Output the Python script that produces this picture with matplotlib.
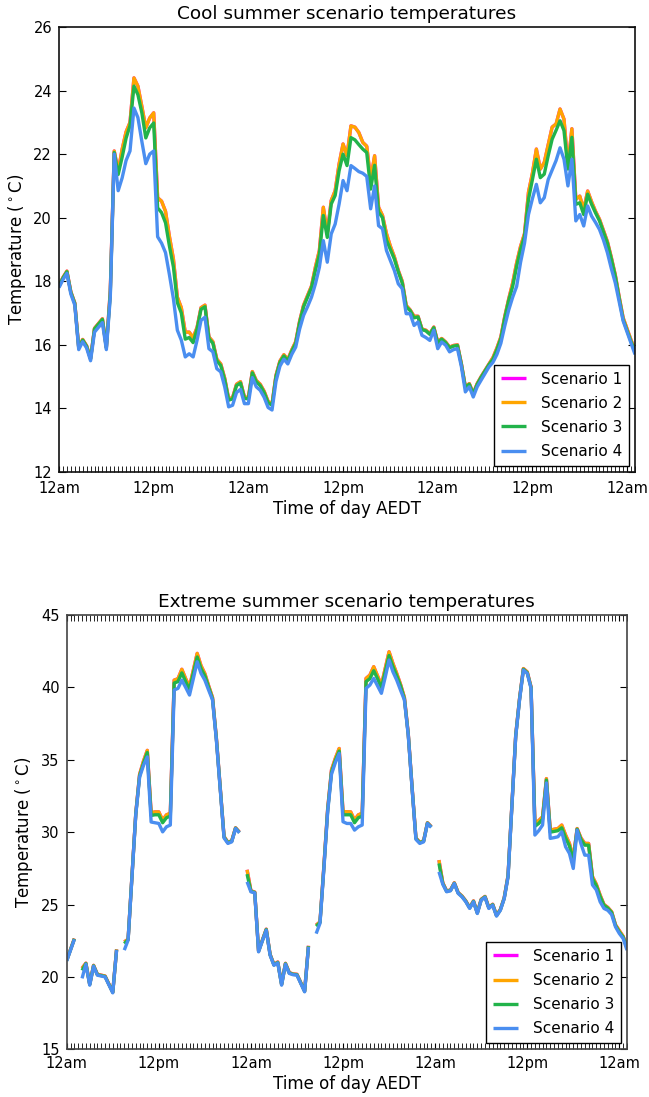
import numpy as np
import matplotlib
matplotlib.use("Agg")
import matplotlib.pyplot as plt
from matplotlib.ticker import MultipleLocator, FixedLocator, FixedFormatter

nan = np.nan

# ---------------- shared axis data ----------------
step_hours = 0.5                      # half-hourly observations
tick_hours = [0, 12, 24, 36, 48, 60, 72]
tick_labels = ["12am", "12pm", "12am", "12pm", "12am", "12pm", "12am"]
scenario_names = ["Scenario 1", "Scenario 2", "Scenario 3", "Scenario 4"]
scenario_colors = ["#ff00ff", "#ffa500", "#22b34a", "#4a8ef0"]

# ---------------- cool summer scenario ----------------
cool_s4 = [
    17.8, 18.05, 18.25, 17.6, 17.25, 15.85, 16.1, 15.9, 15.5, 16.4,
    16.55, 16.7, 15.85, 17.5, 22.0, 20.85, 21.25, 21.8, 22.1, 23.45,
    23.15, 22.4, 21.7, 22.0, 22.1, 19.4, 19.2, 18.9, 18.2, 17.45,
    16.46, 16.15, 15.62, 15.72, 15.62, 16.15, 16.77, 16.87, 15.88, 15.78,
    15.25, 15.15, 14.68, 14.05, 14.1, 14.5, 14.6, 14.15, 14.15, 14.97,
    14.68, 14.57, 14.35, 14.03, 13.95, 14.85, 15.33, 15.55, 15.4, 15.7,
    15.93, 16.5, 16.93, 17.2, 17.5, 17.92, 18.44, 19.28, 18.6, 19.49,
    19.8, 20.43, 21.17, 20.85, 21.64, 21.55, 21.45, 21.4, 21.3, 20.28,
    21.0, 19.75, 19.65, 18.97, 18.65, 18.34, 17.92, 17.77, 16.98, 16.98,
    16.61, 16.72, 16.3, 16.23, 16.14, 16.46, 15.88, 16.09, 15.99, 15.78,
    15.85, 15.88, 15.31, 14.52, 14.68, 14.36, 14.68, 14.89, 15.1, 15.31,
    15.45, 15.7, 16.05, 16.6, 17.1, 17.5, 17.84, 18.6, 19.2, 20.1,
    20.6, 21.05, 20.47, 20.63, 21.2, 21.5, 21.8, 22.2, 21.84, 21.0,
    21.84, 19.9, 20.1, 19.74, 20.37, 20.05, 19.85, 19.63, 19.3, 18.9,
    18.4, 17.95, 17.35, 16.75, 16.4, 16.05, 15.7,
]
cool_s3 = [
    17.85, 18.1, 18.3, 17.65, 17.3, 15.9, 16.15, 15.95, 15.55, 16.5,
    16.65, 16.8, 15.9, 17.6, 22.05, 21.36, 21.9, 22.5, 22.9, 24.14,
    23.87, 23.3, 22.51, 22.83, 22.98, 20.31, 20.16, 19.84, 19.1, 18.45,
    17.33, 17.0, 16.18, 16.23, 16.07, 16.5, 17.12, 17.2, 16.2, 16.05,
    15.5, 15.35, 14.9, 14.26, 14.3, 14.72, 14.8, 14.32, 14.3, 15.12,
    14.84, 14.72, 14.5, 14.18, 14.1, 15.0, 15.45, 15.65, 15.5, 15.8,
    16.05, 16.7, 17.2, 17.5, 17.8, 18.35, 18.85, 20.07, 19.38, 20.43,
    20.7, 21.48, 22.0, 21.64, 22.52, 22.45, 22.3, 22.16, 22.05, 20.9,
    21.65, 20.18, 20.0, 19.3, 19.0, 18.7, 18.3, 17.95, 17.2, 17.08,
    16.85, 16.88, 16.48, 16.44, 16.33, 16.54, 16.06, 16.18, 16.07, 15.91,
    15.96, 15.98, 15.38, 14.66, 14.76, 14.45, 14.76, 14.98, 15.18, 15.38,
    15.55, 15.85, 16.2, 16.85, 17.4, 17.84, 18.47, 19.0, 19.42, 20.58,
    21.2, 21.84, 21.26, 21.37, 21.95, 22.47, 22.75, 23.05, 22.74, 21.53,
    22.53, 20.42, 20.47, 20.1, 20.74, 20.42, 20.15, 19.9, 19.55, 19.2,
    18.7, 18.16, 17.45, 16.79, 16.45, 16.1, 15.8,
]
cool_s2 = [
    17.87, 18.12, 18.32, 17.67, 17.32, 15.92, 16.17, 15.97, 15.57, 16.52,
    16.67, 16.82, 15.92, 17.7, 22.1, 21.46, 22.15, 22.7, 23.0, 24.4,
    24.14, 23.5, 22.83, 23.14, 23.3, 20.63, 20.52, 20.2, 19.4, 18.7,
    17.5, 17.17, 16.4, 16.4, 16.23, 16.55, 17.17, 17.25, 16.25, 16.1,
    15.55, 15.4, 14.95, 14.3, 14.34, 14.76, 14.84, 14.36, 14.34, 15.16,
    14.88, 14.76, 14.54, 14.22, 14.14, 15.04, 15.49, 15.69, 15.54, 15.84,
    16.1, 16.75, 17.25, 17.55, 17.85, 18.45, 18.97, 20.33, 19.49, 20.54,
    20.85, 21.69, 22.32, 21.95, 22.89, 22.85, 22.68, 22.37, 22.25, 21.2,
    21.95, 20.33, 20.07, 19.5, 19.1, 18.77, 18.34, 18.0, 17.24, 17.1,
    16.9, 16.9, 16.5, 16.46, 16.35, 16.56, 16.09, 16.2, 16.09, 15.93,
    15.98, 16.0, 15.4, 14.68, 14.78, 14.47, 14.78, 15.0, 15.2, 15.4,
    15.6, 15.9, 16.25, 16.9, 17.45, 17.95, 18.58, 19.1, 19.5, 20.8,
    21.4, 22.16, 21.53, 21.74, 22.3, 22.85, 22.95, 23.42, 23.1, 21.63,
    22.8, 20.58, 20.68, 20.26, 20.84, 20.5, 20.2, 19.95, 19.6, 19.25,
    18.75, 18.2, 17.5, 16.85, 16.5, 16.15, 15.85,
]
# Scenario 1 is drawn first and is completely covered by Scenario 2
cool_s1 = list(cool_s2)

# ---------------- extreme summer scenario (nan = missing) ----------------
hot_s4 = [
    21.1, 21.85, 22.6, nan, 19.9, 20.88, 19.43, 20.74, 20.12, 20.06,
    20.0, 19.45, 18.9, 21.85, nan, 21.85, 22.54, 26.9, 31.2, 33.8,
    34.6, 35.2, 30.7, 30.65, 30.6, 30.02, 30.37, 30.49, 39.82, 39.93,
    40.5, 40.0, 39.47, 40.6, 41.77, 40.97, 40.5, 39.8, 39.13, 36.36,
    33.0, 29.6, 29.22, 29.33, 30.25, 29.95, nan, 26.57, 25.88, 25.8,
    21.73, 22.5, 23.23, 21.5, 20.8, 20.97, 19.43, 20.88, 20.24, 20.15,
    20.12, 19.55, 18.97, 22.08, nan, 22.99, 23.7, 27.4, 31.4, 34.0,
    34.8, 35.44, 30.72, 30.6, 30.6, 30.14, 30.37, 30.49, 39.93, 40.16,
    40.62, 40.1, 39.59, 40.7, 41.89, 41.08, 40.5, 39.8, 39.13, 36.7,
    33.0, 29.5, 29.22, 29.33, 30.6, 30.33, nan, 27.26, 26.4, 25.88,
    25.95, 26.45, 25.77, 25.53, 25.19, 24.73, 25.19, 24.38, 25.3, 25.5,
    24.73, 24.96, 24.2, 24.6, 25.4, 26.9, 31.7, 36.6, 39.13, 41.2,
    40.97, 39.93, 29.8, 30.1, 30.49, 33.4, 29.57, 29.62, 29.68, 30.02,
    28.99, 28.53, 27.49, 30.14, 29.2, 28.41, 28.41, 26.36, 26.01, 25.19,
    24.73, 24.6, 24.3, 23.46, 23.0, 22.65, 21.85,
]
hot_s3 = [
    21.13, 21.88, 22.63, nan, 20.45, 20.92, 19.47, 20.77, 20.15, 20.09,
    20.03, 19.48, 18.93, 21.88, nan, 22.3, 22.57, 26.95, 31.25, 33.9,
    34.75, 35.5, 31.15, 31.2, 31.2, 30.65, 31.0, 31.1, 40.3, 40.4,
    41.0, 40.4, 39.85, 41.0, 42.1, 41.3, 40.8, 40.0, 39.2, 36.45,
    33.05, 29.65, 29.27, 29.37, 30.28, 29.98, nan, 27.1, 25.92, 25.83,
    21.77, 22.53, 23.27, 21.53, 20.83, 21.0, 19.47, 20.91, 20.27, 20.18,
    20.15, 19.58, 19.0, 22.12, nan, 23.5, 23.75, 27.5, 31.5, 34.15,
    34.95, 35.6, 31.2, 31.2, 31.2, 30.65, 31.0, 31.1, 40.4, 40.6,
    41.15, 40.6, 39.95, 41.1, 42.2, 41.45, 40.8, 40.1, 39.2, 36.75,
    33.05, 29.55, 29.27, 29.37, 30.63, 30.35, nan, 27.84, 26.45, 25.91,
    25.97, 26.47, 25.8, 25.56, 25.22, 24.76, 25.22, 24.41, 25.33, 25.53,
    24.76, 24.99, 24.23, 24.63, 25.43, 26.95, 31.75, 36.65, 39.18, 41.25,
    41.02, 39.98, 30.4, 30.6, 30.9, 33.6, 30.0, 30.05, 30.1, 30.3,
    29.6, 29.05, 28.0, 30.2, 29.5, 29.1, 29.1, 26.8, 26.3, 25.55,
    24.95, 24.75, 24.45, 23.55, 23.1, 22.75, 22.0,
]
hot_s2 = [
    21.15, 21.9, 22.65, nan, 20.6, 20.95, 19.5, 20.8, 20.18, 20.12,
    20.06, 19.5, 18.95, 21.9, nan, 22.42, 22.6, 27.0, 31.3, 34.0,
    34.9, 35.65, 31.34, 31.4, 31.4, 30.83, 31.2, 31.3, 40.5, 40.6,
    41.25, 40.6, 40.04, 41.2, 42.35, 41.5, 40.95, 40.1, 39.3, 36.5,
    33.1, 29.7, 29.3, 29.4, 30.3, 30.0, nan, 27.4, 25.95, 25.86,
    21.8, 22.56, 23.3, 21.56, 20.86, 21.03, 19.5, 20.94, 20.3, 20.2,
    20.18, 19.6, 19.03, 22.15, nan, 23.58, 23.8, 27.6, 31.6, 34.3,
    35.1, 35.78, 31.41, 31.41, 31.4, 30.83, 31.2, 31.3, 40.62, 40.85,
    41.43, 40.8, 40.16, 41.3, 42.46, 41.66, 40.96, 40.2, 39.3, 36.8,
    33.1, 29.6, 29.3, 29.4, 30.65, 30.38, nan, 28.07, 26.5, 25.94,
    26.0, 26.5, 25.83, 25.59, 25.25, 24.79, 25.25, 24.44, 25.36, 25.56,
    24.79, 25.02, 24.26, 24.66, 25.46, 27.0, 31.8, 36.7, 39.23, 41.3,
    41.07, 40.03, 30.6, 30.8, 31.06, 33.7, 30.14, 30.2, 30.25, 30.49,
    29.8, 29.22, 28.2, 30.25, 29.6, 29.22, 29.22, 26.93, 26.4, 25.65,
    25.0, 24.8, 24.5, 23.6, 23.2, 22.8, 22.1,
]
hot_s1 = list(hot_s2)

for arr in (cool_s1, cool_s2, cool_s3, cool_s4, hot_s1, hot_s2, hot_s3, hot_s4):
    assert len(arr) == len(cool_s4), len(arr)

hours = np.arange(len(cool_s4)) * step_hours

# ---------------- figure ----------------
plt.rcParams["font.family"] = ["DejaVu Sans"]
W, H = 649, 1097
fig = plt.figure(figsize=(W / 100, H / 100), dpi=100)

ax_cool = fig.add_axes([59 / W, 1 - 472 / H, 576 / W, 445 / H])
ax_hot = fig.add_axes([66.7 / W, 1 - 1049.3 / H, 560.3 / W, 434.3 / H])


def draw(ax, series, title, ylim, ystep, top_minor, xpad, spine_col):
    for vals, name, col in zip(series, scenario_names, scenario_colors):
        ax.plot(hours, vals, color=col, lw=2.4, label=name,
                solid_capstyle="butt")
    ax.set_xlim(hours[0], hours[-1])
    ax.set_ylim(*ylim)
    ax.yaxis.set_major_locator(MultipleLocator(ystep))
    ax.xaxis.set_major_locator(FixedLocator(tick_hours))
    ax.xaxis.set_major_formatter(FixedFormatter(tick_labels))
    ax.xaxis.set_minor_locator(MultipleLocator(step_hours))
    ax.tick_params(axis="both", which="both", direction="in")
    ax.tick_params(axis="y", which="major", left=True, right=True, length=5,
                   labelsize=10.5, pad=5)
    ax.tick_params(axis="x", which="major", bottom=True, top=top_minor,
                   length=4, labelsize=10.5, pad=xpad)
    ax.tick_params(axis="x", which="minor", bottom=True, top=top_minor, length=4)
    ax.tick_params(axis="y", which="minor", left=False, right=False)
    for sp in ax.spines.values():
        sp.set_linewidth(1.2)
        sp.set_color(spine_col)
    ax.set_title(title, fontsize=13.3, pad=6)
    ax.set_xlabel("Time of day AEDT", fontsize=12, labelpad=3)
    ax.set_ylabel("Temperature ($^\\circ$C)", fontsize=12, labelpad=4)
    leg = ax.legend(loc="lower right", fontsize=11, handlelength=1.65,
                    labelspacing=0.6, borderaxespad=0.4, fancybox=False,
                    framealpha=1.0, borderpad=0.45, handletextpad=0.95)
    leg.get_frame().set_edgecolor("black")
    leg.get_frame().set_linewidth(1.0)


draw(ax_cool, [cool_s1, cool_s2, cool_s3, cool_s4],
     "Cool summer scenario temperatures", (12, 26), 2, False, 6.5, "#111111")
draw(ax_hot, [hot_s1, hot_s2, hot_s3, hot_s4],
     "Extreme summer scenario temperatures", (15, 45), 5, True, 5.0, "#444444")

fig.savefig("out.png", dpi=100)
